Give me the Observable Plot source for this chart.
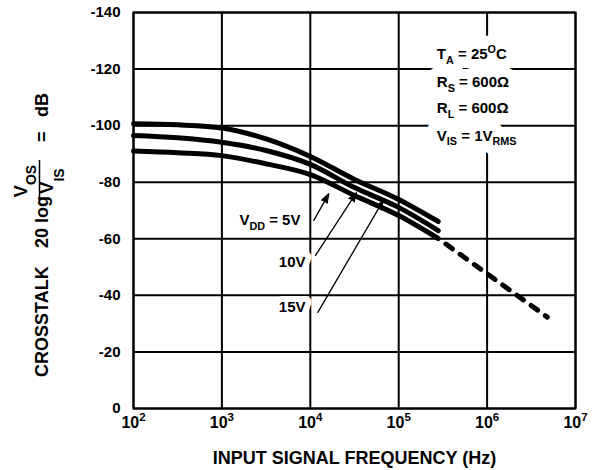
<!DOCTYPE html>
<html><head><meta charset="utf-8">
<script src="https://cdn.jsdelivr.net/npm/d3@7"></script>
<script src="https://cdn.jsdelivr.net/npm/@observablehq/plot@0.6"></script>
<style>body{margin:0;background:#fff}</style>
</head><body><div id="chart"></div>
<script>
// ---- data ----
const freq = [100, 316, 1000, 3162, 10000, 31623, 100000, 280000];
const vdd5 = [-91.0, -90.4, -89.4, -86.5, -82.7, -75.3, -68.2, -60.1];
const vdd10 = [-96.5, -95.7, -94.1, -91.2, -86.3, -78.1, -71.1, -62.9];
const vdd15 = [-100.7, -100.3, -99.2, -95.3, -89.1, -81.0, -73.9, -66.1];
const extFreq = [280000, 4800000];
const extVal = [-60.1, -32.3];
const xTicks = [1e2, 1e3, 1e4, 1e5, 1e6, 1e7];
const yTicks = [0, -20, -40, -60, -80, -100, -120, -140];
const condText = ["T_{A} = 25^{O}C", "R_{S} = 600Ω", "R_{L} = 600Ω", "V_{IS} = 1V_{RMS}"];
const condX = [270000, 270000, 270000, 270000];
const condY = [-123.4, -113.5, -104.3, -94.7];
const vddText = ["V_{DD} = 5V", "10V", "15V"];
const vddX = [7740, 8830, 8830];
const vddY = [-64.7, -50.2, -34.0];
const arrowX1 = [10955, 11450, 12160];
const arrowY1 = [-66.5, -54.1, -34.0];
const arrowX2 = [16180, 33310, 66780];
const arrowY2 = [-75.9, -76.3, -73.5];
const xLabel = "INPUT SIGNAL FREQUENCY (Hz)";

// ---- tables ----
const series = [["5V", vdd5], ["10V", vdd10], ["15V", vdd15]];
const curves = series.flatMap(([s, vals]) => vals.map((v, i) => ({s, f: freq[i], v})));
const ext = extFreq.map((f, i) => ({f, v: extVal[i]}));
const conds = condText.map((t, i) => ({t, x: condX[i], y: condY[i]}));
const vdds = vddText.map((t, i) => ({t, x: vddX[i], y: vddY[i]}));
const arrows = arrowX1.map((x1, i) => ({x1, y1: arrowY1[i], x2: arrowX2[i], y2: arrowY2[i]}));

const FF = "Liberation Sans, Arial, Helvetica, sans-serif";
const halo = (w) => ({fill: "white", stroke: "white", strokeWidth: w, strokeLinejoin: "round"});

const svg = Plot.plot({
  width: 597, height: 470,
  marginLeft: 133, marginRight: 22, marginTop: 12, marginBottom: 62,
  x: {type: "log", domain: [1e2, 1e7]},
  y: {domain: [0, -140]},
  style: {fontFamily: FF, fontWeight: "bold", fontSize: "15px", color: "black", background: "white"},
  marks: [
    Plot.ruleX(xTicks, {stroke: "black", strokeWidth: 2}),
    Plot.ruleY(yTicks, {stroke: "black", strokeWidth: 2}),
    Plot.frame({stroke: "black", strokeWidth: 2}),
    // white backgrounds (halo layers)
    Plot.text(conds, {x: "x", y: "y", text: "t", textAnchor: "start", lineAnchor: "bottom", fontSize: 15, ...halo(20)}),
    Plot.text(vdds, {x: "x", y: "y", text: "t", textAnchor: "end", lineAnchor: "bottom", fontSize: 15, ...halo(12)}),
    // text layers
    Plot.text(conds, {x: "x", y: "y", text: "t", textAnchor: "start", lineAnchor: "bottom", fontSize: 15, fill: "black"}),
    Plot.text(vdds, {x: "x", y: "y", text: "t", textAnchor: "end", lineAnchor: "bottom", fontSize: 15, fill: "black"}),
    Plot.line(curves, {x: "f", y: "v", z: "s", stroke: "black", strokeWidth: 5, curve: "monotone-x"}),
    Plot.line(ext, {x: "f", y: "v", stroke: "black", strokeWidth: 5, strokeDasharray: "8,9.5", strokeDashoffset: 8}),
    Plot.arrow(arrows, {x1: "x1", y1: "y1", x2: "x2", y2: "y2", stroke: "black", strokeWidth: 1.3, headLength: 11, headAngle: 38}),
    Plot.axisX({ticks: xTicks, tickSize: 0, tickPadding: 8, label: null, fontSize: 16,
      tickFormat: d => `10^{${Math.round(Math.log10(d))}}`}),
    Plot.axisY({ticks: yTicks, tickSize: 0, tickPadding: 13, label: null, fontSize: 15, tickFormat: d => String(d)}),
    Plot.text([xLabel], {text: d => d, frameAnchor: "bottom", lineAnchor: "bottom", dy: 55, fontSize: 18})
  ]
});
document.getElementById("chart").appendChild(svg);

// rich text: _{sub} and ^{sup}
d3.select(svg).selectAll("text").each(function () {
  const t = this.textContent;
  if (!/[_^]\{/.test(t)) return;
  const fs = parseFloat(getComputedStyle(this).fontSize) || 15;
  this.textContent = "";
  const parts = t.split(/([_^]\{[^}]*\})/).filter(s => s);
  let shift = 0;
  for (const p of parts) {
    const ts = document.createElementNS("http://www.w3.org/2000/svg", "tspan");
    let target = 0, txt = p, small = false;
    if (p.startsWith("_{")) { target = 0.3 * fs; txt = p.slice(2, -1); small = true; }
    else if (p.startsWith("^{")) { target = -0.42 * fs; txt = p.slice(2, -1); small = true; }
    const d = target - shift;
    if (d) ts.setAttribute("dy", d);
    shift = target;
    if (small) ts.style.fontSize = (0.72 * fs).toFixed(1) + "px";
    ts.textContent = txt;
    this.appendChild(ts);
  }
});

// filled arrowheads
d3.select(svg).selectAll('g[aria-label="arrow"] path').attr("fill", "black");

// y-axis title
const g = d3.select(svg).append("g").style("font-size", "18px").style("font-weight", "bold")
  .style("font-family", FF).attr("fill", "black");
function rtext(x, y, anchor) {
  return g.append("text").attr("transform", `translate(${x},${y}) rotate(-90)`).attr("text-anchor", anchor);
}
rtext(48, 377, "start").text("CROSSTALK");
rtext(48, 248, "start").text("20 log");
const num = rtext(27, 181, "middle");
num.append("tspan").text("V");
num.append("tspan").attr("dy", 9).style("font-size", "14px").text("OS");
const den = rtext(53, 181, "middle");
den.append("tspan").text("V");
den.append("tspan").attr("dy", 11).style("font-size", "14px").text("IS");
g.append("line").attr("x1", 39.5).attr("x2", 39.5).attr("y1", 160).attr("y2", 203)
  .attr("stroke", "black").attr("stroke-width", 1.5);
rtext(48, 142, "start").text("=");
rtext(48, 117, "start").text("dB");
</script>
</body></html>
